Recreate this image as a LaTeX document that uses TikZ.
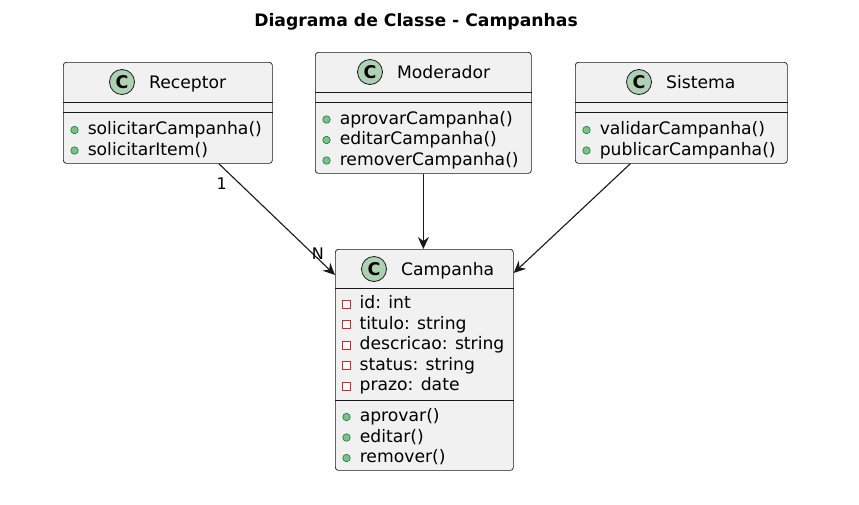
\documentclass[tikz,border=0pt]{standalone}
\usepackage{fontspec}
\setmainfont{DejaVu Sans}
\usepackage{tikz}
\usetikzlibrary{arrows.meta,positioning}
\definecolor{umlline}{HTML}{181818}
\definecolor{umlfill}{HTML}{F1F1F1}
\definecolor{iconfill}{HTML}{ADD1B2}
\definecolor{pubfill}{HTML}{84BE84}
\definecolor{publine}{HTML}{038048}
\definecolor{privline}{HTML}{C82930}

\begin{document}
\begin{tikzpicture}[
  x=1pt, y=-1pt,
  font=\fontsize{17.2}{20.5}\selectfont,
  classbox/.style={draw=umlline, fill=umlfill, line width=0.7pt, rounded corners=3pt,
    inner sep=0pt, anchor=north west},
  divider/.style={draw=umlline, line width=0.7pt},
  classicon/.style={circle, draw=umlline, fill=iconfill, line width=0.8pt,
    minimum size=25pt, inner sep=0pt, font=\fontsize{17.5}{17.5}\selectfont\bfseries},
  classname/.style={inner sep=0pt, text height=14pt, text depth=2pt},
  member/.style={inner sep=0pt, text height=12.5pt, text depth=3.5pt},
  pubdot/.style={circle, draw=publine, fill=pubfill, line width=0.6pt,
    minimum size=7.5pt, inner sep=0pt},
  privsq/.style={rectangle, draw=privline, fill=white, line width=0.9pt,
    minimum width=8pt, minimum height=8pt, inner sep=0pt},
  arrow/.style={-{Stealth[length=12pt,width=11pt,inset=4pt]}, draw=umlline, line width=1.1pt},
  mult/.style={font=\fontsize{16}{16}\selectfont, inner sep=0pt},
  node distance=14pt
]
\fill[white] (0,0) rectangle (859,504);
\useasboundingbox (0,0) rectangle (859,504);

\node[anchor=base, font=\fontsize{17.2}{20}\selectfont\bfseries] (title) at (416,26)
  {Diagrama de Classe - Campanhas};

% Receptor
\node[classbox, minimum width=209pt, minimum height=101pt] (receptor) at (63,62) {};
\draw[divider] ([yshift=-40pt]receptor.north west) -- ([yshift=-40pt]receptor.north east);
\draw[divider] ([yshift=-50pt]receptor.north west) -- ([yshift=-50pt]receptor.north east);
\node[classicon] (receptor-c) at (122,82) {C};
\node[classname, right=of receptor-c] (receptor-name) {Receptor};
\foreach \m [count=\i from 0] in {solicitarCampanha(), solicitarItem()} {
  \node[pubdot] (receptor-d\i) at (74.5,130+20.5*\i) {};
  \node[member, right=9pt of receptor-d\i] (receptor-m\i) {\m};
}

% Moderador
\node[classbox, minimum width=216pt, minimum height=121pt] (moderador) at (315,52) {};
\draw[divider] ([yshift=-40pt]moderador.north west) -- ([yshift=-40pt]moderador.north east);
\draw[divider] ([yshift=-50pt]moderador.north west) -- ([yshift=-50pt]moderador.north east);
\node[classicon] (moderador-c) at (370,72) {C};
\node[classname, right=of moderador-c] (moderador-name) {Moderador};
\foreach \m [count=\i from 0] in {aprovarCampanha(), editarCampanha(), removerCampanha()} {
  \node[pubdot] (moderador-d\i) at (326.5,119.5+20.5*\i) {};
  \node[member, right=9pt of moderador-d\i] (moderador-m\i) {\m};
}

% Sistema
\node[classbox, minimum width=212pt, minimum height=101pt] (sistema) at (575,62) {};
\draw[divider] ([yshift=-40pt]sistema.north west) -- ([yshift=-40pt]sistema.north east);
\draw[divider] ([yshift=-50pt]sistema.north west) -- ([yshift=-50pt]sistema.north east);
\node[classicon] (sistema-c) at (639,82) {C};
\node[classname, right=of sistema-c] (sistema-name) {Sistema};
\foreach \m [count=\i from 0] in {validarCampanha(), publicarCampanha()} {
  \node[pubdot] (sistema-d\i) at (586.5,130+20.5*\i) {};
  \node[member, right=9pt of sistema-d\i] (sistema-m\i) {\m};
}

% Campanha
\node[classbox, minimum width=178pt, minimum height=221pt] (campanha) at (335,249) {};
\draw[divider] ([yshift=-39pt]campanha.north west) -- ([yshift=-39pt]campanha.north east);
\draw[divider] ([yshift=-151pt]campanha.north west) -- ([yshift=-151pt]campanha.north east);
\node[classicon] (campanha-c) at (374,269) {C};
\node[classname, right=of campanha-c] (campanha-name) {Campanha};
\foreach \m [count=\i from 0] in {id: int, titulo: string, descricao: string, status: string, prazo: date} {
  \node[privsq] (campanha-a\i) at (346.5,304+20.5*\i) {};
  \node[member, right=8.5pt of campanha-a\i] (campanha-t\i) {\m};
}
\foreach \m [count=\i from 0] in {aprovar(), editar(), remover()} {
  \node[pubdot] (campanha-d\i) at (346.5,417+20.5*\i) {};
  \node[member, right=9pt of campanha-d\i] (campanha-m\i) {\m};
}

% relacoes
\draw[arrow] ([xshift=51pt]receptor.south) --
  node[mult, pos=0.18, xshift=-18pt] {1}
  node[mult, pos=0.81, xshift=5pt] {N} ([yshift=-26pt]campanha.north west);
\draw[arrow] (moderador.south) -- (moderador.south |- campanha.north);
\draw[arrow] ([xshift=-51pt]sistema.south) -- ([yshift=-24pt]campanha.north east);
\end{tikzpicture}
\end{document}
